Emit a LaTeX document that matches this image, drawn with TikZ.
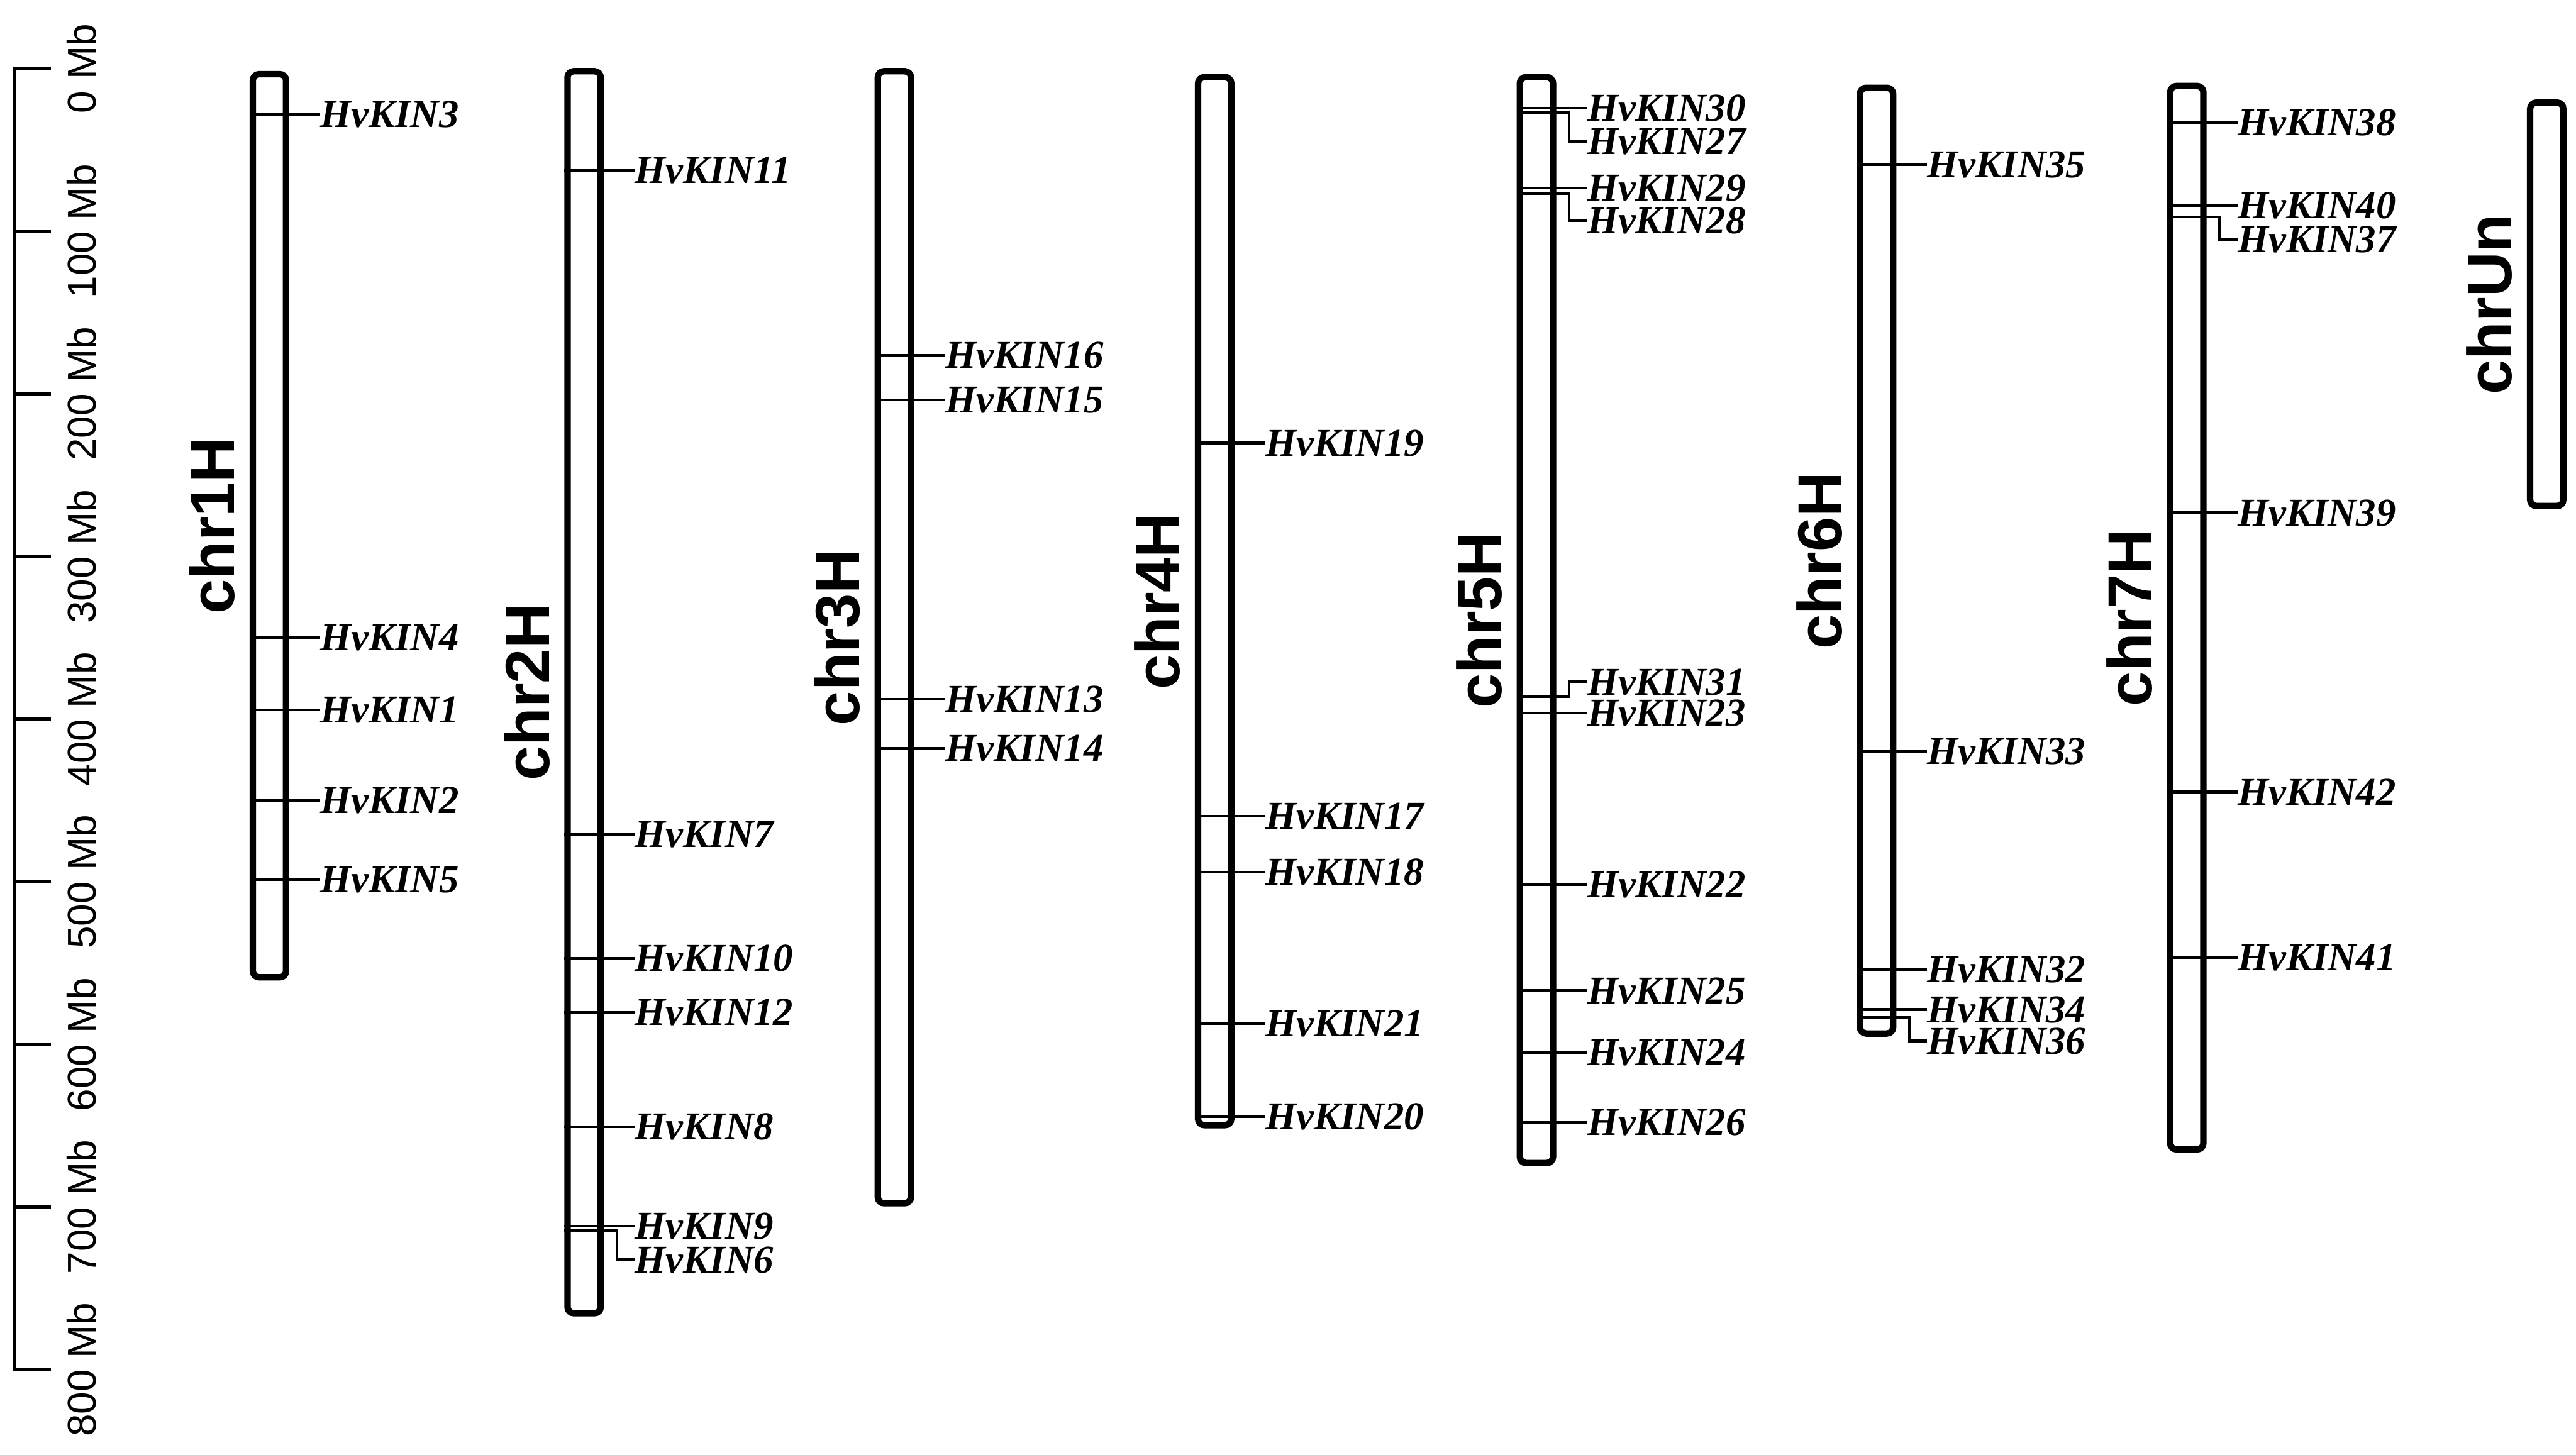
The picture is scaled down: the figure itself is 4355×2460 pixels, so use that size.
\documentclass[tikz,border=0pt]{standalone}
\usepackage{fontspec}
\setmainfont{Liberation Serif}
\setsansfont{Liberation Sans}

\tikzset{
  chrom/.style={draw,line width=3.1pt,rounded corners=3pt,minimum width={0.67cm-3.1pt},inner sep=0pt,anchor=north},
  chrlab/.style={font=\sffamily\bfseries\fontsize{30}{30}\selectfont,rotate=90,anchor=south,inner sep=0pt},
  kinlab/.style={font=\bfseries\itshape\fontsize{19}{19}\selectfont,anchor=west,inner sep=0pt,text height=12.5pt,text depth=0pt},
  kinline/.style={line width=1.3pt},
  rulerline/.style={line width=1.7pt},
  mblab/.style={font=\sffamily\fontsize{19.3}{19.3}\selectfont,rotate=90,anchor=south,inner sep=0pt}
}

\begin{document}
\begin{tikzpicture}[x=0.01cm,y=-0.01cm]
\useasboundingbox (0,0) rectangle (4355,2460);
% scale bar
\draw[rulerline] (86,116) -- (24,116) -- (24,2316) -- (86,2316);
\foreach \i in {1,...,7} \draw[rulerline] (24,116+275*\i) -- (86,116+275*\i);
\foreach \i in {0,...,8} {\pgfmathtruncatemacro\v{100*\i}
  \node[mblab] (mb\i) at (164,116+275*\i) {\v\ Mb};}
% chromosomes
\foreach \c/\x/\t/\b/\name in {1/455.5/120/1658/chr1H,2/987.5/115/2226/chr2H,3/1512/115/2040/chr3H,
  4/2053.5/125/1908/chr4H,5/2597.5/125/1972/chr5H,6/3172.5/143/1753/chr6H,7/3697/140/1949/chr7H,
  Un/4305.5/168/861/chrUn} {
  \node[chrom,minimum height={(\b-\t)*0.01cm-3.1pt}] (c\c) at (\x,\t) {};
  \node[chrlab] (l\c) at ([xshift=-0.24cm]c\c.west) {\name};
}
% genes: chromosome / marker / label / number
\foreach \c/\m/\l/\n in {1/193/193/3,1/1078/1078/4,1/1200/1200/1,1/1353/1353/2,1/1487/1487/5,
  2/288/288/11,2/1411/1411/7,2/1620/1620/10,2/1712/1712/12,2/1905/1905/8,2/2073/2073/9,2/2081/2130/6,
  3/601/601/16,3/676/676/15,3/1182/1182/13,3/1265/1265/14,
  4/749/749/19,4/1380/1380/17,4/1475/1475/18,4/1731/1731/21,4/1888/1888/20,
  5/183/183/30,5/190/239/27,5/318/318/29,5/327/373/28,5/1178/1153/31,5/1206/1206/23,
  5/1496/1496/22,5/1675/1675/25,5/1780/1780/24,5/1898/1898/26,
  6/278/278/35,6/1270/1270/33,6/1639/1639/32,6/1707/1707/34,6/1720/1760/36,
  7/207/207/38,7/348/348/40,7/367/405/37,7/867/867/39,7/1339/1339/42,7/1619/1619/41} {
  \node[kinlab,xshift=0.52cm] (k\n) at (c\c.east |- 0,\l) {HvKIN\n};
  \draw[kinline] (c\c.west |- 0,\m) -- (c\c.east |- 0,\m) -- ++(22,0) |- (k\n.west);
}
\end{tikzpicture}
\end{document}
